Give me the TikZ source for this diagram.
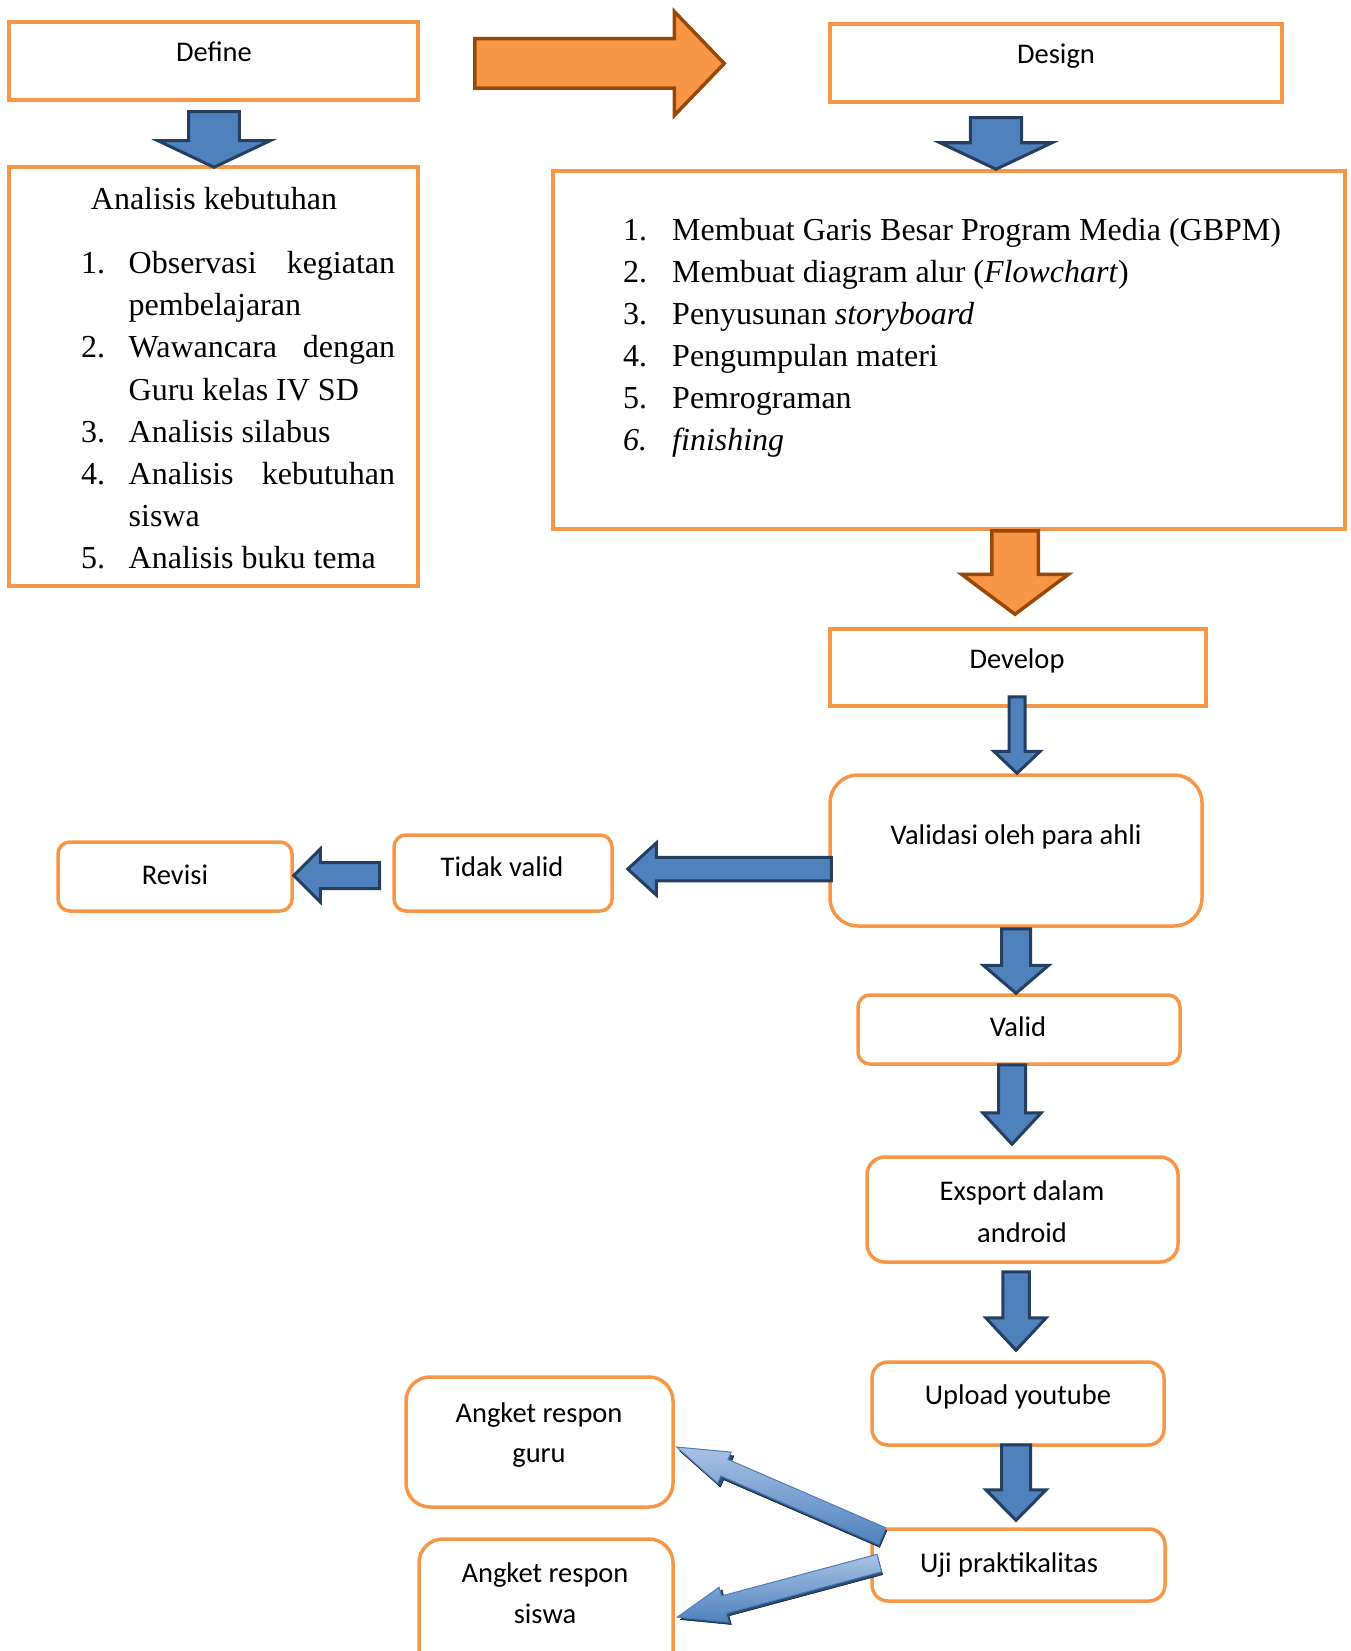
\documentclass[tikz,border=0pt]{standalone}
\usepackage{fontspec}
\setmainfont{Liberation Serif}
\newfontfamily\calfont{Carlito}
\usetikzlibrary{calc}
\definecolor{obord}{HTML}{F79646}
\definecolor{bfill}{HTML}{4F81BD}
\definecolor{bdraw}{HTML}{243F60}
\definecolor{ofill}{HTML}{F79646}
\definecolor{odraw}{HTML}{984807}
\definecolor{dlight}{HTML}{A9C2E4}
\definecolor{dmid}{HTML}{4F81BD}
\definecolor{dedge}{HTML}{4A7EBB}
\definecolor{dshadow}{HTML}{2C4D75}

% block arrow pointing down: style, start (top centre), end (tip), shaft half, head half, head length
\newcommand\blockdown[6]{%
\draw[#1] let \p1=#2, \p2=#3 in
 ({\x1-#4},\y1) -- ({\x1+#4},\y1) -- ({\x1+#4},{\y2+#6}) -- ({\x1+#5},{\y2+#6})
 -- (\x1,\y2) -- ({\x1-#5},{\y2+#6}) -- ({\x1-#4},{\y2+#6}) -- cycle;}
% block arrow pointing left: style, start (right end), end (tip), shaft half, head half, head length
\newcommand\blockleft[6]{%
\draw[#1] let \p1=#2, \p2=#3 in
 (\x1,{\y1+#4}) -- ({\x2+#6},{\y1+#4}) -- ({\x2+#6},{\y1+#5}) -- (\x2,\y1)
 -- ({\x2+#6},{\y1-#5}) -- ({\x2+#6},{\y1-#4}) -- (\x1,{\y1-#4}) -- cycle;}
% block arrow pointing right
\newcommand\blockright[6]{%
\draw[#1] let \p1=#2, \p2=#3 in
 (\x1,{\y1+#4}) -- ({\x2-#6},{\y1+#4}) -- ({\x2-#6},{\y1+#5}) -- (\x2,\y1)
 -- ({\x2-#6},{\y1-#5}) -- ({\x2-#6},{\y1-#4}) -- (\x1,{\y1-#4}) -- cycle;}
% slanted arrow: style, origin, angle, length, shaft half, head half, head length
\newcommand\diagarrow[7]{%
\begin{scope}[shift={#2}, rotate=#3]
\draw[#1] (0,#5) -- ({#4-#7},#5) -- ({#4-#7},#6) -- (#4,0) -- ({#4-#7},-#6)
 -- ({#4-#7},-#5) -- (0,-#5) -- cycle;
\end{scope}}

\begin{document}
\begin{tikzpicture}[x=1pt,y=-1pt,
  box/.style={draw=obord, line width=3.5pt, fill=white, inner sep=0pt},
  rbox/.style={box, rounded corners=#1},
  lab/.style={font=\calfont\fontsize{28.5}{34}\selectfont, anchor=base, inner sep=0pt},
  ser/.style={font=\fontsize{32}{38}\selectfont, anchor=base west, inner sep=0pt},
  seri/.style={ser, font=\fontsize{32}{38}\selectfont\itshape},
  barrow/.style={fill=bfill, draw=bdraw, line width=3pt, line join=miter},
  oarrow/.style={fill=ofill, draw=odraw, line width=3.5pt, line join=miter},
  darrow/.style={top color=dlight, bottom color=dmid, draw=dedge, line width=1pt},
  dshad/.style={fill=dshadow}]
\useasboundingbox (0,0) rectangle (1350,1651);
\clip (0,0) rectangle (1350,1651);

% ---------- boxes ----------
\node[box, minimum width=409, minimum height=78] (define) at (213.5,61) {};
\node[box, minimum width=452, minimum height=78] (design) at (1056,63) {};
\node[box, minimum width=409, minimum height=419] (analisis) at (213.5,376.5) {};
\node[box, minimum width=792, minimum height=358] (content) at (949,350) {};
\node[box, minimum width=376, minimum height=77] (develop) at (1018,667.5) {};
\node[rbox=28pt, minimum width=372, minimum height=151] (validasi) at (1016,850.5) {};
\node[rbox=12pt, minimum width=218, minimum height=76] (tidak) at (503,873) {};
\node[rbox=12pt, minimum width=234, minimum height=69] (revisi) at (175,876.5) {};
\node[rbox=12pt, minimum width=322, minimum height=69] (valid) at (1019,1029.5) {};
\node[rbox=18pt, minimum width=311, minimum height=105] (exsport) at (1022.5,1209.5) {};
\node[rbox=16pt, minimum width=292, minimum height=83] (upload) at (1018,1403.5) {};
\node[rbox=16pt, minimum width=293, minimum height=72] (uji) at (1018.5,1565) {};
\node[rbox=24pt, minimum width=267, minimum height=130] (guru) at (539.5,1442) {};
\node[rbox=24pt, minimum width=254, minimum height=141] (siswa) at (546,1609.5) {};

% ---------- labels ----------
\node[lab] (defineT) at (214,62) {Define};
\node[lab] (designT) at (1056,64) {Design};
\node[lab] (developT) at (1017,668) {Develop};
\node[lab] (validasiT) at (1016,844) {Validasi oleh para ahli};
\node[lab] (tidakT) at (502,876) {Tidak valid};
\node[lab] (revisiT) at (175,884) {Revisi};
\node[lab] (validT) at (1018,1036) {Valid};
\node[lab] (exsportT1) at (1022,1200) {Exsport dalam};
\node[lab] (exsportT2) at (1022,1242) {android};
\node[lab] (uploadT) at (1018,1404) {Upload youtube};
\node[lab] (ujiT) at (1009,1572) {Uji praktikalitas};
\node[lab] (guruT1) at (539,1422) {Angket respon};
\node[lab] (guruT2) at (539,1462) {guru};
\node[lab] (siswaT1) at (545,1582) {Angket respon};
\node[lab] (siswaT2) at (545,1623) {siswa};

% ---------- Analisis kebutuhan list ----------
\node[ser, anchor=base] (anH) at (214,209) {Analisis kebutuhan};
\node[ser] (an1n) at (81,273) {1.};
\node[ser] (an1a) at (128.5,273) {\hbox to 266.5pt{Observasi\hfill kegiatan}};
\node[ser] (an1b) at (128.5,315) {pembelajaran};
\node[ser] (an2n) at (81,357) {2.};
\node[ser] (an2a) at (128.5,357) {\hbox to 266.5pt{Wawancara\hfill dengan}};
\node[ser] (an2b) at (128.5,400) {Guru kelas IV SD};
\node[ser] (an3n) at (81,442) {3.};
\node[ser] (an3a) at (128.5,442) {Analisis silabus};
\node[ser] (an4n) at (81,484) {4.};
\node[ser] (an4a) at (128.5,484) {\hbox to 266.5pt{Analisis\hfill kebutuhan}};
\node[ser] (an4b) at (128.5,526) {siswa};
\node[ser] (an5n) at (81,568) {5.};
\node[ser] (an5a) at (128.5,568) {Analisis buku tema};

% ---------- Design list ----------
\node[ser] (ds1n) at (623,240) {1.};
\node[ser] (ds1) at (672,240) {Membuat Garis Besar Program Media (GBPM)};
\node[ser] (ds2n) at (623,282) {2.};
\node[ser] (ds2) at (672,282) {Membuat diagram alur (\textit{Flowchart})};
\node[ser] (ds3n) at (623,324) {3.};
\node[ser] (ds3) at (672,324) {Penyusunan \textit{storyboard}};
\node[ser] (ds4n) at (623,366) {4.};
\node[ser] (ds4) at (672,366) {Pengumpulan materi};
\node[ser] (ds5n) at (623,408) {5.};
\node[ser] (ds5) at (672,408) {Pemrograman};
\node[seri] (ds6n) at (623,450) {6.};
\node[seri] (ds6) at (672,450) {finishing};

% ---------- block arrows ----------
\blockright{oarrow}{($(define.east)+(55,2.5)$)}{($(design.west)+(-104,0)$)}{24.75}{52}{50}
\blockdown{barrow}{($(define.south)+(0.5,10)$)}{($(analisis.north)+(0,2)$)}{25.3}{56}{26.5}
\blockdown{barrow}{($(design.south)+(-60,14)$)}{(content.north)}{25.7}{56}{26.5}
\blockdown{oarrow}{($(content.south)+(66,0)$)}{($(develop.north)+(0,-13)$)}{23.25}{53.5}{40}
\blockdown{barrow}{($(develop.south)+(-1,-11)$)}{(validasi.north)}{8}{23.25}{22}
\blockleft{barrow}{($(validasi.west)+(3,18.5)$)}{($(tidak.east)+(14,0)$)}{11.75}{26}{28.5}
\blockleft{barrow}{($(tidak.west)+(-12.75,2.5)$)}{(revisi.east)}{13}{26.4}{26.5}
\blockdown{barrow}{($(validasi.south)+(0,1)$)}{(valid.north)}{14.5}{32.75}{28}
\blockdown{barrow}{($(valid.south)+(-7,-1)$)}{($(exsport.north)+(0,-11)$)}{13.5}{29.25}{31.5}
\blockdown{barrow}{($(exsport.south)+(-6.5,8)$)}{($(upload.north)+(0,-10)$)}{13.25}{30.25}{32.5}
\blockdown{barrow}{($(upload.south)+(-2,-2)$)}{($(uji.north)+(0,-7)$)}{14.5}{30.25}{30.5}

% ---------- slanted arrows ----------
\diagarrow{dshad}{($(uji.west)+(13,-26)$)}{156.6}{222}{9}{17}{52}
\diagarrow{darrow}{($(uji.west)+(12,-29)$)}{156.6}{224}{9}{17}{52}
\diagarrow{dshad}{($(uji.west)+(10,1)$)}{195}{207}{9}{18}{48}
\diagarrow{darrow}{($(uji.west)+(9,-2)$)}{195}{209}{9}{18}{48}
\end{tikzpicture}
\end{document}
